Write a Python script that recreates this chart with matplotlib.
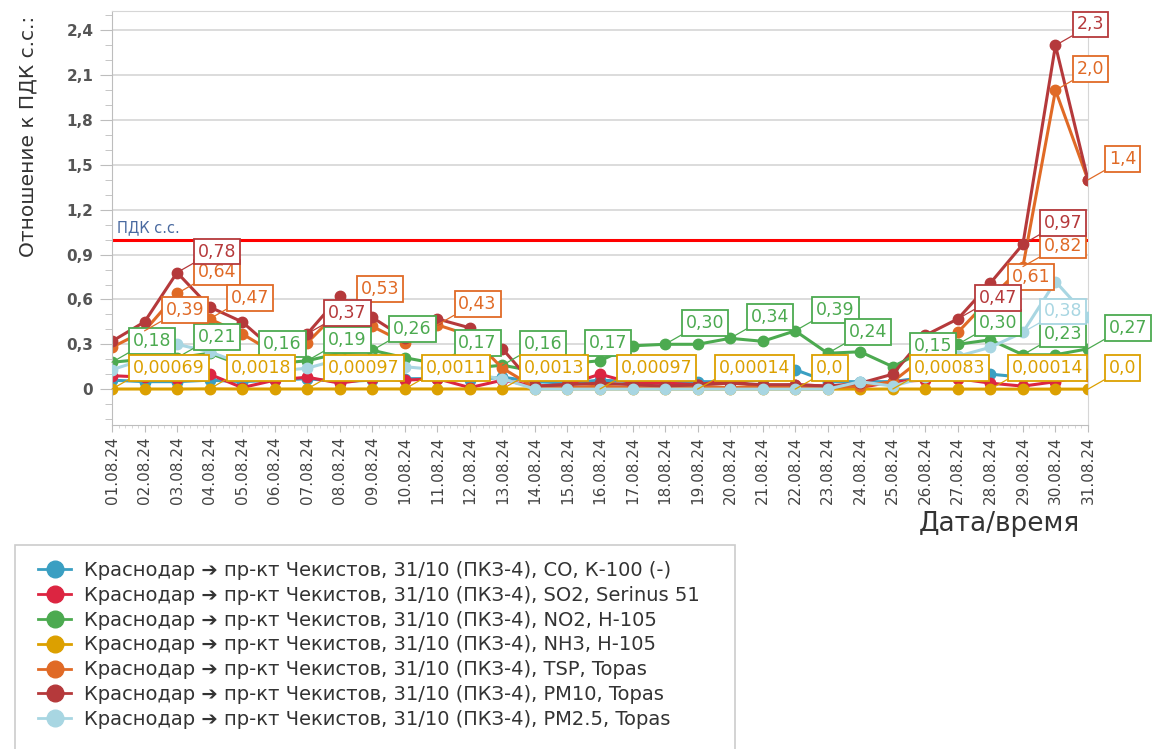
import numpy as np
import matplotlib.pyplot as plt
from matplotlib.ticker import MultipleLocator, FuncFormatter
from matplotlib.lines import Line2D
from matplotlib.patches import Rectangle

# данные (отношение к ПДК с.с.), 01.08.24 - 31.08.24
days = np.arange(1, 32)
date_labels = ['%02d.08.24' % d for d in days]

co = [0.06, 0.05, 0.05, 0.06, 0.05, 0.06, 0.07, 0.05, 0.06, 0.07, 0.07, 0.06, 0.08, 0.05, 0.04, 0.06,
      0.05, 0.04, 0.05, 0.05, 0.06, 0.13, 0.05, 0.05, 0.05, 0.08, 0.08, 0.10, 0.08, 0.09, 0.10]
so2 = [0.09, 0.08, 0.07, 0.10, 0.01, 0.06, 0.08, 0.04, 0.07, 0.06, 0.07, 0.01, 0.06, 0.02, 0.03, 0.10,
       0.04, 0.04, 0.03, 0.06, 0.01, 0.03, 0.02, 0.01, 0.05, 0.06, 0.07, 0.04, 0.02, 0.05, 0.09]
no2 = [0.18, 0.20, 0.21, 0.24, 0.16, 0.17, 0.19, 0.24, 0.26, 0.21, 0.17, 0.14, 0.16, 0.12, 0.17, 0.19,
       0.29, 0.30, 0.30, 0.34, 0.32, 0.39, 0.24, 0.25, 0.15, 0.26, 0.30, 0.33, 0.23, 0.23, 0.27]
nh3 = [0.00069, 0.0008, 0.0007, 0.0018, 0.001, 0.0009, 0.00097, 0.001, 0.0011, 0.0011, 0.001, 0.0012,
       0.0013, 0.001, 0.0009, 0.00097, 0.0008, 0.0005, 0.00014, 0.0002, 0.0001, 0.0, 0.0001, 0.0002,
       0.00083, 0.0005, 0.0003, 0.00014, 0.0001, 0.0001, 0.0]
tsp = [0.28, 0.39, 0.64, 0.47, 0.37, 0.24, 0.31, 0.53, 0.42, 0.31, 0.43, 0.36, 0.14, 0.01, 0.01, 0.02,
       0.01, 0.01, 0.02, 0.01, 0.02, 0.01, 0.01, 0.02, 0.05, 0.22, 0.38, 0.61, 0.82, 2.0, 1.4]
pm10 = [0.32, 0.45, 0.78, 0.55, 0.45, 0.26, 0.37, 0.62, 0.48, 0.34, 0.47, 0.41, 0.27, 0.02, 0.03, 0.04,
        0.03, 0.02, 0.03, 0.04, 0.03, 0.03, 0.02, 0.04, 0.10, 0.36, 0.47, 0.71, 0.97, 2.3, 1.4]
pm25 = [0.13, 0.20, 0.30, 0.25, 0.17, 0.12, 0.14, 0.20, 0.20, 0.15, 0.13, 0.10, 0.07, 0.0, 0.0, 0.0,
        0.0, 0.0, 0.0, 0.0, 0.0, 0.0, 0.0, 0.05, 0.02, 0.08, 0.22, 0.28, 0.38, 0.72, 0.48]

# дни с подписями значений
co_lbl = []
so2_lbl = []
no2_lbl = [1, 3, 5, 7, 9, 11, 13, 15, 18, 20, 22, 23, 25, 27, 29, 31]
nh3_lbl = [1, 4, 7, 10, 13, 16, 19, 22, 25, 28, 31]
tsp_lbl = [2, 3, 4, 8, 11, 28, 29, 30, 31]
pm10_lbl = [3, 7, 27, 29, 30]
pm25_lbl = [29]

pdk = 1.0

prefix = 'Краснодар \u2794 пр-кт Чекистов, 31/10 (ПКЗ-4), '
names = [prefix + 'CO, К-100 (-)', prefix + 'SO2, Serinus 51', prefix + 'NO2, Н-105',
         prefix + 'NH3, Н-105', prefix + 'TSP, Topas', prefix + 'PM10, Topas',
         prefix + 'PM2.5, Topas']
colors = ['#3a9fc2', '#dc2541', '#4caa50', '#dca000', '#e06a26', '#b5393b', '#a8d6e2']
series = [co, so2, no2, nh3, tsp, pm10, pm25]
labels_at = [co_lbl, so2_lbl, no2_lbl, nh3_lbl, tsp_lbl, pm10_lbl, pm25_lbl]

W, H = 1153, 749
fig = plt.figure(figsize=(W / 100, H / 100), dpi=100)
ax = fig.add_axes([112 / W, 1 - 425 / H, (1088 - 112) / W, (425 - 11) / H])

ax.axhline(pdk, color='#ff0000', lw=2.2, zorder=1.5)
ax.text(1.15, 1.08, 'ПДК с.с.', color='#4a6aa0', fontsize=10.5, va='center', ha='left')

for i, (vals, c) in enumerate(zip(series, colors)):
    ax.plot(days, vals, color=c, lw=2.2, marker='o', markersize=7.5, zorder=2 + i * 0.1)

for vals, c, lbl in zip(series, colors, labels_at):
    for d in lbl:
        v = vals[d - 1]
        txt = ('%#.2g' % v).replace('.', ',')
        ax.annotate(txt, xy=(d, v), xytext=(21, 21), textcoords='offset pixels',
                    ha='left', va='center', fontsize=12.5, color=c,
                    bbox=dict(boxstyle='square,pad=0.22', fc='white', ec=c, lw=1.3),
                    arrowprops=dict(arrowstyle='-', color=c, lw=0.9, shrinkA=0, shrinkB=0,
                                    relpos=(0, 0)),
                    annotation_clip=False, zorder=5)

ax.set_xlim(1, 31)
ax.set_ylim(-0.24, 2.53)
ax.yaxis.set_major_locator(MultipleLocator(0.3))
ax.yaxis.set_minor_locator(MultipleLocator(0.1))
ax.yaxis.set_major_formatter(FuncFormatter(
    lambda v, _: '0' if abs(v) < 1e-9 else ('%.1f' % v).replace('.', ',')))
ax.set_xticks(days)
ax.set_xticklabels(date_labels, rotation=90)
ax.xaxis.set_minor_locator(MultipleLocator(0.2))

ax.yaxis.grid(True, which='major', color='#d6d6d6', lw=1.2)
ax.set_axisbelow(True)
for s in ['left', 'bottom']:
    ax.spines[s].set_color('#bdbdbd')
for s in ['top', 'right']:
    ax.spines[s].set_color('#d6d6d6')

ax.tick_params(axis='y', which='major', length=8.5, color='#bdbdbd', labelsize=11,
               labelcolor='#555555', pad=5)
ax.tick_params(axis='y', which='minor', length=5, color='#bdbdbd')
ax.tick_params(axis='x', which='major', length=5, color='#bdbdbd', labelsize=11,
               labelcolor='#444444', pad=3)
ax.tick_params(axis='x', which='minor', length=2.5, color='#d0d0d0')
for t in ax.get_yticklabels():
    t.set_fontweight('bold')

fig.text(28 / W, 1 - 136 / H, 'Отношение к ПДК с.с.:', rotation=90, va='center', ha='center',
         fontsize=14.5, color='#333333')
fig.text(1080 / W, 1 - 524 / H, 'Дата/время', ha='right', va='center', fontsize=19,
         color='#333333')

# легенда
handles = [Line2D([], [], color=c, marker='o', markersize=12, lw=2) for c in colors]
fig.legend(handles, names, loc='upper left', bbox_to_anchor=(38 / W, 1 - 561 / H),
           frameon=False, fontsize=14, labelspacing=0.3, handlelength=1.7,
           handletextpad=0.65, borderaxespad=0, borderpad=0, labelcolor='#333333')
fig.add_artist(Rectangle((15 / W, -0.01), (735 - 15) / W, (749 - 545) / H + 0.01,
                         transform=fig.transFigure, fill=False, ec='#cccccc', lw=1.2))

fig.savefig('out.png', dpi=100)
